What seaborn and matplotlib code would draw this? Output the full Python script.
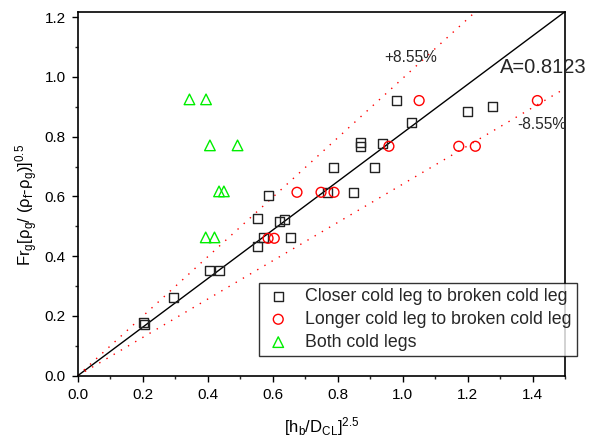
import numpy as np
import pandas as pd
import matplotlib
matplotlib.use("Agg")
import matplotlib.pyplot as plt
from matplotlib.ticker import MultipleLocator, FormatStrFormatter
import seaborn as sns

# Closer cold leg to broken cold leg
closer_x = [0.203, 0.207, 0.296, 0.407, 0.435, 0.553, 0.554, 0.572, 0.587, 0.621,
            0.638, 0.656, 0.770, 0.788, 0.850, 0.871, 0.871, 0.915, 0.937, 0.981,
            1.027, 1.199, 1.278]
closer_y = [0.178, 0.172, 0.262, 0.352, 0.352, 0.431, 0.526, 0.462, 0.602, 0.515,
            0.523, 0.462, 0.614, 0.698, 0.614, 0.782, 0.768, 0.698, 0.778, 0.921,
            0.847, 0.886, 0.900]

# Longer cold leg to broken cold leg
longer_x = [0.586, 0.605, 0.675, 0.749, 0.789, 0.958, 1.051, 1.173, 1.224, 1.415]
longer_y = [0.460, 0.460, 0.614, 0.614, 0.614, 0.768, 0.921, 0.768, 0.768, 0.921]

# Both cold legs
both_x = [0.344, 0.395, 0.407, 0.492, 0.435, 0.450, 0.394, 0.421]
both_y = [0.925, 0.925, 0.771, 0.771, 0.617, 0.617, 0.463, 0.463]

series_labels = ["Closer cold leg to broken cold leg",
                 "Longer cold leg to broken cold leg",
                 "Both cold legs"]

# Correlation line and bounds
fit_slope = 0.8123
upper_slope = 0.995
lower_slope = 0.641
line_x = [0.0, 1.5]

sns.set_theme(style="ticks")
plt.rcParams["font.family"] = ["Liberation Sans", "DejaVu Sans"]
plt.rcParams["mathtext.fontset"] = "custom"
plt.rcParams["mathtext.rm"] = "Liberation Sans"
plt.rcParams["mathtext.it"] = "Liberation Sans:italic"
plt.rcParams["mathtext.bf"] = "Liberation Sans:bold"

fig = plt.figure(figsize=(5.91, 4.41), dpi=100)
ax = fig.add_axes([0.1315, 0.148, 0.8245, 0.8255])

lx = np.array(line_x)
ax.plot(lx, fit_slope * lx, color="black", lw=1.0, zorder=2)
ax.plot(lx, upper_slope * lx, color="red", lw=1.0, ls=(0, (1, 5)), zorder=2)
ax.plot(lx, lower_slope * lx, color="red", lw=1.0, ls=(0, (1, 5)), zorder=2)

df_c = pd.DataFrame({"x": closer_x, "y": closer_y})
df_l = pd.DataFrame({"x": longer_x, "y": longer_y})
df_b = pd.DataFrame({"x": both_x, "y": both_y})

sns.scatterplot(data=df_c, x="x", y="y", marker="s", s=42, facecolor="none",
                edgecolor="#222222", linewidth=1.0, color="#222222",
                label=series_labels[0], ax=ax, zorder=3)
sns.scatterplot(data=df_l, x="x", y="y", marker="o", s=50, facecolor="none",
                edgecolor="red", linewidth=1.0, color="red",
                label=series_labels[1], ax=ax, zorder=3)
sns.scatterplot(data=df_b, x="x", y="y", marker="^", s=58, facecolor="none",
                edgecolor="#00ee00", linewidth=1.0, color="#00ee00",
                label=series_labels[2], ax=ax, zorder=3)

ax.set_xlim(0, 1.5)
ax.set_ylim(0, 1.5 * fit_slope)
ax.xaxis.set_major_locator(MultipleLocator(0.2))
ax.xaxis.set_minor_locator(MultipleLocator(0.1))
ax.yaxis.set_major_locator(MultipleLocator(0.2))
ax.yaxis.set_minor_locator(MultipleLocator(0.1))
ax.xaxis.set_major_formatter(FormatStrFormatter("%.1f"))
ax.yaxis.set_major_formatter(FormatStrFormatter("%.1f"))
ax.tick_params(which="major", direction="out", length=4.5, width=1.0,
               labelsize=11, pad=4, colors="black")
ax.tick_params(which="minor", direction="out", length=2.5, width=1.0)
for sp in ax.spines.values():
    sp.set_visible(True)
    sp.set_linewidth(1.2)
    sp.set_color("black")

ax.set_xlabel(r"[h$_\mathrm{b}$/D$_\mathrm{CL}$]$^\mathrm{2.5}$", fontsize=12,
              color="black", labelpad=10)
ax.set_ylabel(r"Fr$_\mathrm{g}$[ρ$_\mathrm{g}$/ (ρ$_\mathrm{f}$-ρ$_\mathrm{g}$)]$^\mathrm{0.5}$",
              fontsize=12, color="black")
ax.yaxis.set_label_coords(-0.077, 0.47)

ax.text(0.945, 1.049, "+8.55%", fontsize=11.2, va="baseline", ha="left")
ax.text(1.300, 1.013, "A=0.8123", fontsize=14.5, va="baseline", ha="left",
        clip_on=False)
ax.text(1.352, 0.827, "-8.55%", fontsize=11.2, va="baseline", ha="left")

leg = ax.legend(loc="upper left", bbox_to_anchor=(0.3714, 0.2555),
                borderaxespad=0, frameon=True, fancybox=False, fontsize=12.8,
                handlelength=1.6, handletextpad=0.7, labelspacing=0.33,
                borderpad=0.3)
leg.get_frame().set_edgecolor("black")
leg.get_frame().set_linewidth(1.0)
for h, sz in zip(leg.legend_handles, [42, 50, 58]):
    h.set_sizes([sz])

fig.savefig("out.png", dpi=100)
